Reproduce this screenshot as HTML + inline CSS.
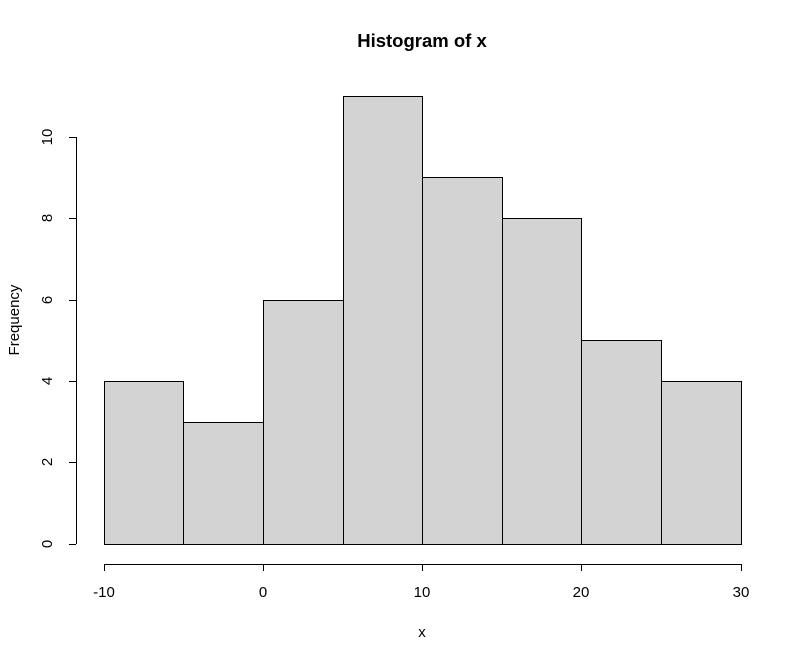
<!DOCTYPE html>
<html><head><style>body{margin:0;background:#fff}</style></head><body>
<svg width="807" height="660" xmlns="http://www.w3.org/2000/svg" font-family="Liberation Sans, Arial, sans-serif">
<rect width="807" height="660" fill="#fff"/>
<text x="422" y="47" font-size="18.5" font-weight="bold" text-anchor="middle">Histogram of x</text>
<g fill="#d3d3d3" stroke="#000" stroke-width="1">
<rect x="104.5" y="381.5" width="79" height="163"/>
<rect x="183.5" y="422.5" width="80" height="122"/>
<rect x="263.5" y="300.5" width="80" height="244"/>
<rect x="343.5" y="96.5" width="79" height="448"/>
<rect x="422.5" y="177.5" width="80" height="367"/>
<rect x="502.5" y="218.5" width="79" height="326"/>
<rect x="581.5" y="340.5" width="80" height="204"/>
<rect x="661.5" y="381.5" width="80" height="163"/>
</g>
<g stroke="#000" stroke-width="1">
<line x1="104" y1="564.5" x2="741" y2="564.5"/>
<line x1="104.5" y1="564" x2="104.5" y2="571"/>
<line x1="263.5" y1="564" x2="263.5" y2="571"/>
<line x1="422.5" y1="564" x2="422.5" y2="571"/>
<line x1="581.5" y1="564" x2="581.5" y2="571"/>
<line x1="741.5" y1="564" x2="741.5" y2="571"/>
<line x1="76.5" y1="137" x2="76.5" y2="544"/>
<line x1="69" y1="544.5" x2="76" y2="544.5"/>
<line x1="69" y1="462.5" x2="76" y2="462.5"/>
<line x1="69" y1="381.5" x2="76" y2="381.5"/>
<line x1="69" y1="300.5" x2="76" y2="300.5"/>
<line x1="69" y1="218.5" x2="76" y2="218.5"/>
<line x1="69" y1="137.5" x2="76" y2="137.5"/>
</g>
<g font-size="15" text-anchor="middle">
<text x="104" y="597">-10</text><text x="263" y="597">0</text><text x="422" y="597">10</text><text x="581" y="597">20</text><text x="741" y="597">30</text>
<text x="422" y="637">x</text>
<text transform="translate(52,544) rotate(-90)">0</text>
<text transform="translate(52,462) rotate(-90)">2</text>
<text transform="translate(52,381) rotate(-90)">4</text>
<text transform="translate(52,300) rotate(-90)">6</text>
<text transform="translate(52,218) rotate(-90)">8</text>
<text transform="translate(52,137) rotate(-90)">10</text>
<text transform="translate(19,320) rotate(-90)">Frequency</text>
</g>
</svg>
</body></html>
